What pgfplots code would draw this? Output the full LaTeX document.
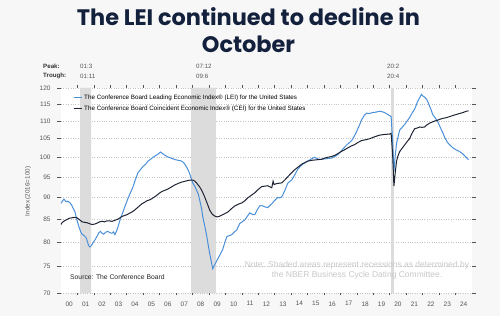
\documentclass[border=0pt]{standalone}
\usepackage{pgfplots}
\pgfplotsset{compat=1.18}
\usepackage{fontspec}
\setmainfont{Liberation Sans}
\newfontfamily\titlefont{Poppins}

\definecolor{bgcol}{HTML}{F7F7F7}
\definecolor{titlecol}{HTML}{14213D}
\definecolor{leicol}{HTML}{4A90D9}
\definecolor{ceicol}{HTML}{1E2433}
\definecolor{shadecol}{HTML}{DCDCDC}
\definecolor{gridcol}{HTML}{C4C4C4}
\definecolor{tickcol}{HTML}{555555}
\definecolor{notecol}{HTML}{C8C8C8}

% Leading Economic Index (2016=100)
\pgfplotstableread{
year value
2000.00 88.6
2000.10 89.2
2000.18 89.6
2000.30 89.0
2000.42 89.1
2000.55 88.7
2000.65 88.2
2000.73 87.5
2000.85 86.6
2000.97 84.8
2001.10 83.2
2001.20 82.2
2001.28 81.7
2001.40 81.4
2001.52 81.0
2001.60 80.2
2001.68 79.3
2001.76 79.0
2001.85 79.3
2001.95 79.9
2002.07 80.5
2002.20 81.3
2002.30 82.0
2002.40 82.3
2002.49 81.9
2002.60 81.7
2002.70 82.1
2002.85 82.3
2002.98 82.0
2003.10 81.9
2003.20 82.2
2003.28 81.6
2003.38 82.4
2003.46 83.2
2003.55 84.3
2003.62 85.2
2003.77 86.6
2003.90 88.0
2004.07 89.7
2004.20 90.9
2004.37 92.4
2004.50 94.0
2004.68 96.0
2004.85 96.9
2004.98 97.6
2005.15 98.2
2005.29 99.0
2005.45 99.5
2005.59 100.0
2005.75 100.4
2005.89 100.8
2006.05 101.4
2006.14 101.1
2006.30 100.6
2006.50 100.1
2006.70 99.8
2006.93 99.4
2007.15 99.2
2007.35 99.0
2007.50 98.4
2007.65 97.4
2007.75 96.6
2007.84 95.6
2008.02 93.4
2008.15 92.6
2008.26 91.6
2008.36 90.7
2008.44 89.3
2008.55 87.4
2008.63 85.4
2008.75 83.4
2008.87 81.2
2008.96 79.3
2009.05 77.6
2009.15 75.9
2009.23 74.6
2009.35 75.4
2009.54 76.6
2009.70 77.6
2009.84 78.5
2009.96 79.9
2010.09 81.2
2010.25 81.4
2010.39 81.6
2010.55 82.2
2010.69 82.6
2010.87 84.0
2011.02 84.4
2011.18 84.8
2011.33 85.6
2011.48 86.4
2011.62 86.1
2011.79 86.0
2011.95 87.2
2012.09 88.0
2012.21 88.1
2012.39 87.8
2012.58 87.6
2012.70 88.1
2012.82 88.5
2013.00 89.3
2013.18 90.0
2013.30 89.9
2013.43 90.1
2013.61 91.6
2013.79 93.4
2013.90 93.8
2014.03 94.2
2014.22 95.5
2014.40 96.9
2014.55 97.6
2014.70 98.2
2014.85 98.6
2015.01 99.0
2015.20 99.5
2015.43 100.0
2015.60 99.6
2015.74 99.4
2015.90 99.5
2016.05 99.6
2016.25 99.7
2016.46 99.8
2016.65 100.2
2016.83 100.7
2017.05 101.7
2017.25 102.7
2017.45 103.6
2017.68 104.5
2017.85 105.8
2017.98 107.0
2018.15 108.8
2018.29 110.4
2018.47 111.8
2018.59 112.3
2018.75 112.2
2018.96 112.5
2019.15 112.6
2019.38 112.9
2019.55 112.7
2019.68 112.5
2019.85 112.0
2019.99 111.6
2020.08 111.3
2020.17 104.5
2020.25 96.3
2020.33 100.5
2020.42 104.0
2020.60 107.4
2020.75 108.2
2020.90 109.0
2021.05 110.0
2021.20 111.0
2021.35 112.3
2021.51 113.5
2021.60 114.6
2021.69 115.8
2021.80 116.8
2021.93 118.0
2021.99 117.6
2022.10 117.2
2022.24 116.5
2022.33 115.5
2022.42 114.4
2022.52 113.2
2022.60 112.0
2022.75 111.0
2022.90 110.0
2023.05 108.4
2023.21 106.8
2023.35 105.3
2023.51 104.0
2023.65 103.3
2023.82 102.6
2023.95 102.2
2024.12 101.8
2024.25 101.5
2024.42 101.0
2024.58 100.3
2024.73 99.6
2024.79 99.4
}\leitable

% Coincident Economic Index (2016=100)
\pgfplotstableread{
year value
2000.00 83.8
2000.06 84.2
2000.20 84.6
2000.36 84.9
2000.50 85.2
2000.67 85.3
2000.82 85.4
2000.97 85.3
2001.12 84.9
2001.28 84.4
2001.42 84.3
2001.58 84.2
2001.73 84.0
2001.88 83.8
2002.05 83.9
2002.19 84.1
2002.35 84.4
2002.49 84.5
2002.65 84.4
2002.79 84.6
2002.95 84.6
2003.10 84.5
2003.25 84.7
2003.40 84.9
2003.55 85.2
2003.71 85.6
2003.86 85.8
2004.01 86.0
2004.16 86.3
2004.31 86.6
2004.47 87.0
2004.62 87.5
2004.77 88.0
2004.92 88.5
2005.07 88.8
2005.22 89.2
2005.38 89.4
2005.53 89.7
2005.68 90.1
2005.83 90.5
2005.98 91.0
2006.14 91.4
2006.32 91.7
2006.50 92.0
2006.72 92.5
2006.93 93.0
2007.15 93.4
2007.35 93.7
2007.55 93.9
2007.72 94.1
2007.90 94.2
2008.02 94.2
2008.15 93.9
2008.26 93.4
2008.42 92.6
2008.57 91.6
2008.72 90.3
2008.87 88.8
2008.96 87.9
2009.05 87.0
2009.15 86.4
2009.23 86.0
2009.35 85.7
2009.48 85.5
2009.62 85.6
2009.78 85.9
2009.95 86.2
2010.15 86.6
2010.35 87.3
2010.57 88.0
2010.78 88.4
2011.00 88.7
2011.18 89.2
2011.36 89.9
2011.58 90.5
2011.79 91.1
2012.00 91.9
2012.21 92.6
2012.40 92.7
2012.58 92.8
2012.72 92.5
2012.82 92.3
2012.90 93.9
2012.96 93.1
2013.10 93.3
2013.25 93.4
2013.43 93.5
2013.61 94.2
2013.79 95.0
2014.00 95.9
2014.22 96.8
2014.43 97.5
2014.64 98.2
2014.82 98.6
2015.01 99.0
2015.22 99.2
2015.43 99.3
2015.65 99.4
2015.86 99.5
2016.05 99.8
2016.22 100.0
2016.45 100.2
2016.65 100.5
2016.85 101.0
2017.07 101.6
2017.25 102.0
2017.44 102.5
2017.65 103.0
2017.86 103.4
2018.07 104.0
2018.29 104.5
2018.50 104.7
2018.77 105.0
2019.05 105.5
2019.38 106.0
2019.68 106.2
2019.99 106.3
2020.08 106.5
2020.17 101.0
2020.25 92.7
2020.33 96.0
2020.41 99.0
2020.50 100.4
2020.60 101.5
2020.75 102.4
2020.90 103.3
2021.05 104.2
2021.20 105.0
2021.35 106.5
2021.51 107.8
2021.66 108.0
2021.81 108.3
2021.96 108.2
2022.11 108.3
2022.26 108.9
2022.42 109.4
2022.57 109.7
2022.72 110.0
2022.88 110.2
2023.03 110.5
2023.24 110.8
2023.45 111.0
2023.64 111.3
2023.82 111.6
2024.03 111.9
2024.24 112.2
2024.45 112.5
2024.67 112.9
2024.79 113.0
}\ceitable

\begin{document}
\begin{tikzpicture}
\fill[bgcol] (0,0) rectangle (500bp,316bp);

% title
\node[font=\titlefont\bfseries\fontsize{22.5}{24}\selectfont, text=titlecol] at (248.5bp,299bp) {The LEI continued to decline in};
\node[font=\titlefont\bfseries\fontsize{22.5}{24}\selectfont, text=titlecol] at (248.5bp,272bp) {October};

% recession dates
\begin{scope}[font=\fontsize{6.2}{7}\selectfont, text=tickcol, inner sep=0pt]
\node[anchor=west, font=\bfseries\fontsize{6.2}{7}\selectfont, text=black!80] at (43bp,250bp) {Peak:};
\node[anchor=west, font=\bfseries\fontsize{6.2}{7}\selectfont, text=black!80] at (43bp,240bp) {Trough:};
\node[anchor=west] at (80bp,250bp) {01:3};
\node[anchor=west] at (80bp,240bp) {01:11};
\node[anchor=west] at (196bp,250bp) {07:12};
\node[anchor=west] at (196bp,240bp) {09:6};
\node[anchor=west] at (387bp,250bp) {20:2};
\node[anchor=west] at (387bp,240bp) {20:4};
\end{scope}

% y label
\node[rotate=90, font=\fontsize{6.3}{7}\selectfont, text=tickcol] at (28bp,124.5bp) {Index (2016=100)};

\begin{axis}[
  at={(61bp,23bp)}, anchor=south west,
  scale only axis, width=411bp, height=205bp,
  xmin=2000, xmax=2025,
  ymode=log, ymin=70, ymax=120,
  axis background/.style={fill=white},
  axis line style={draw=none},
  ytick={70,75,80,85,90,95,100,105,110,115,120},
  yticklabels={70,75,80,85,90,95,100,105,110,115,120},
  xtick={2000.5,2001.5,...,2024.5},
  xticklabels={00,01,02,03,04,05,06,07,08,09,10,11,12,13,14,15,16,17,18,19,20,21,22,23,24},
  minor xtick={2001,2002,...,2024},
  major x tick style={draw=none},
  tick align=outside,
  major tick length=4bp,
  minor tick length=2.5bp,
  tick style={tickcol, line width=0.6bp},
  ymajorgrids,
  grid style={gridcol, dotted, line width=0.6bp},
  /pgf/number format/assume math mode=true,
  tick label style={font=\fontsize{6.5}{7}\selectfont, text=tickcol},
  yticklabel style={xshift=-3bp},
  xticklabel style={yshift=-1bp},
  legend style={at={(rel axis cs:0.022,0.985)}, anchor=north west,
    draw=none, fill=none, font=\fontsize{6.3}{7.5}\selectfont,
    inner xsep=3bp, inner ysep=1.5bp, row sep=1bp,
    legend cell align=left},
  legend image code/.code={\draw[#1] (0bp,0bp) -- (8bp,0bp);},
  clip=true,
]
% recession bands
\addplot[fill=shadecol, draw=none, forget plot] coordinates {(2001.167,70) (2001.833,70) (2001.833,120) (2001.167,120)} \closedcycle;
\addplot[fill=shadecol, draw=none, forget plot] coordinates {(2007.917,70) (2009.417,70) (2009.417,120) (2007.917,120)} \closedcycle;
\addplot[fill=shadecol, draw=none, forget plot] coordinates {(2020.083,70) (2020.250,70) (2020.250,120) (2020.083,120)} \closedcycle;

\addplot[leicol, line width=1bp] table[x=year, y=value] {\leitable};
\addlegendentry{The Conference Board Leading Economic Index\textregistered\ (LEI) for the United States}
\addplot[ceicol, line width=1bp] table[x=year, y=value] {\ceitable};
\addlegendentry{The Conference Board Coincident Economic Index\textregistered\ (CEI) for the United States}
\end{axis}

% source and note
\node[anchor=west, inner sep=0pt, font=\fontsize{6.8}{8}\selectfont, text=black!85] at (70bp,39bp) {Source: The Conference Board};
\node[align=center, inner sep=0pt, font=\fontsize{8.5}{10.5}\selectfont, text=notecol] at (357bp,45.5bp) {Note: Shaded areas represent recessions as determined by\\the NBER Business Cycle Dating Committee.};

\pgfresetboundingbox
\path (0,0) rectangle (500bp,316bp);
\end{tikzpicture}
\end{document}
